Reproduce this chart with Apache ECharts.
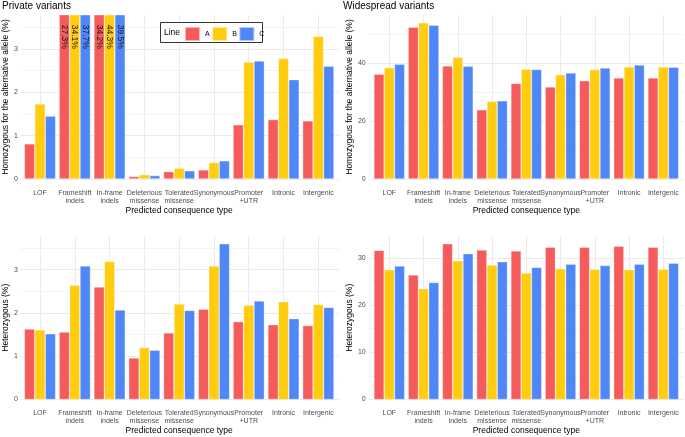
<!DOCTYPE html>
<html>
<head>
<meta charset="utf-8">
<script src="https://cdn.jsdelivr.net/npm/echarts@6/dist/echarts.min.js"></script>
<style>html,body{margin:0;padding:0;background:#fff}#c{width:685px;height:437px}</style>
</head>
<body>
<div id="c"></div>
<script>
const categories = ['LOF','Frameshift\nindels','In-frame\nindels','Deleterious\nmissense','Tolerated\nmissense','Synonymous','Promoter\n+UTR','Intronic','Intergenic'];
const lines = ['A','B','C'];

// Private variants, homozygous for the alternative allele (%)
const privHomA = [0.81, 27.3, 34.2, 0.06, 0.17, 0.21, 1.25, 1.37, 1.34];
const privHomB = [1.73, 34.1, 44.3, 0.10, 0.25, 0.38, 2.70, 2.78, 3.29];
const privHomC = [1.45, 37.7, 39.5, 0.08, 0.19, 0.42, 2.72, 2.29, 2.60];
// Widespread variants, homozygous for the alternative allele (%)
const widHomA = [36.2, 52.4, 39.0, 23.9, 33.0, 31.8, 33.9, 34.9, 34.9];
const widHomB = [38.4, 53.9, 42.0, 26.8, 37.9, 36.0, 37.8, 38.7, 38.7];
const widHomC = [39.6, 53.1, 38.9, 27.0, 37.8, 36.6, 38.3, 39.4, 38.6];
// Private variants, heterozygous (%)
const privHetA = [1.63, 1.56, 2.60, 0.96, 1.54, 2.09, 1.80, 1.73, 1.71];
const privHetB = [1.61, 2.64, 3.19, 1.20, 2.21, 3.09, 2.18, 2.26, 2.20];
const privHetC = [1.52, 3.09, 2.07, 1.14, 2.06, 3.60, 2.28, 1.87, 2.13];
// Widespread variants, heterozygous (%)
const widHetA = [31.6, 26.4, 33.0, 31.7, 31.5, 32.3, 32.3, 32.5, 32.3];
const widHetB = [27.5, 23.5, 29.4, 28.5, 26.8, 27.7, 27.6, 27.5, 27.6];
const widHetC = [28.3, 24.8, 30.9, 29.2, 28.0, 28.7, 28.4, 28.7, 28.9];

const colors = ['#F55B5B', '#FFCC0F', '#4F87F8'];
const FONT = 'Liberation Sans, Arial, sans-serif';

const panels = [
  {data:[privHomA, privHomB, privHomC], max:3.78, major:1, minor:0.5, name:'Homozygous for the alternative allele (%)', center0:40, step:34.79, top:15, bottom:179, nameGap:9, labelTop:true},
  {data:[widHomA, widHomB, widHomC], max:56.6, major:20, minor:10, name:'Homozygous for the alternative allele (%)', center0:389.3, step:34.25, top:15, bottom:179, nameGap:14},
  {data:[privHetA, privHetB, privHetC], max:3.78, major:1, minor:0.5, name:'Heterozygous (%)', center0:40, step:34.79, top:236, bottom:399.5, nameGap:9},
  {data:[widHetA, widHetB, widHetC], max:34.65, major:10, minor:5, name:'Heterozygous (%)', center0:389.3, step:34.25, top:236, bottom:399.5, nameGap:14}
];

const grid = [], xAxis = [], yAxis = [], series = [];
panels.forEach((p, i) => {
  const panelLeft = p.center0 - 0.6 * p.step;
  const panelW = 9.2 * p.step;
  const barLeft = p.center0 - 0.5 * p.step;
  const barW = 9 * p.step;
  const h = p.bottom - p.top;
  grid[i] = {left: panelLeft, top: p.top, width: panelW, height: h, containLabel: false};
  grid[4 + i] = {left: barLeft, top: p.top, width: barW, height: h, containLabel: false};
  xAxis[i] = {type:'value', gridIndex:i, min:0, max:1, show:false};
  xAxis[4 + i] = {
    type:'category', gridIndex:4 + i, data:categories,
    axisLine:{show:false}, axisTick:{show:false},
    axisLabel:{interval:0, margin:10, fontSize:7, lineHeight:8, color:'#4D4D4D', fontFamily:FONT, hideOverlap:false},
    splitLine:{show:true, alignWithLabel:true, lineStyle:{color:'#EBEBEB', width:1}},
    name:'Predicted consequence type', nameLocation:'middle', nameGap:27,
    nameTextStyle:{fontSize:8.5, color:'#000', fontFamily:FONT}
  };
  // minor grid lines
  yAxis[2 * i] = {
    type:'value', gridIndex:i, position:'left', min:0, max:p.max, interval:p.minor,
    axisLine:{show:false}, axisTick:{show:false}, axisLabel:{show:false},
    splitLine:{show:true, showMaxLine:false, lineStyle:{color:'#F4F4F4', width:1}}, z:0
  };
  // major grid lines + labels
  yAxis[2 * i + 1] = {
    type:'value', gridIndex:i, position:'left', min:0, max:p.max, interval:p.major,
    axisLine:{show:false}, axisTick:{show:false},
    axisLabel:{margin:3, fontSize:7, color:'#4D4D4D', fontFamily:FONT, showMaxLabel:false},
    splitLine:{show:true, showMaxLine:false, lineStyle:{color:'#EBEBEB', width:1}}, z:1,
    name:p.name, nameLocation:'middle', nameGap:p.nameGap,
    nameTextStyle:{fontSize:8.5, color:'#000', fontFamily:FONT}
  };
  yAxis[8 + i] = {type:'value', gridIndex:4 + i, min:0, max:p.max, show:false};
  p.data.forEach((vals, s) => {
    series.push({
      type:'bar', name:lines[s], xAxisIndex:4 + i, yAxisIndex:8 + i,
      data:vals, barGap:'0%', barCategoryGap:'10%', clip:true,
      itemStyle:{color:colors[s], borderColor:'rgba(255,255,255,0.55)', borderWidth:0.6},
      label:{
        show:!!p.labelTop, position:'insideTop', rotate:-90, align:'left', verticalAlign:'middle',
        distance:10, fontSize:8.5, color:'#1a1a1a', fontFamily:FONT,
        formatter: (q) => q.value > p.max ? q.value.toFixed(1) + '%' : ''
      },
      emphasis:{disabled:true}, animation:false
    });
  });
});

const chart = echarts.init(document.getElementById('c'), null, {renderer:'canvas'});
chart.setOption({
  animation:false,
  backgroundColor:'#fff',
  grid, xAxis, yAxis, series,
  legend:{
    data:lines, left:184, top:26, padding:0, itemWidth:15, itemHeight:14, itemGap:1.5, z:20,
    icon:'rect', textStyle:{fontSize:7, color:'#000', fontFamily:FONT}, selectedMode:false
  },
  graphic:[
    {type:'text', left:2, top:1, style:{text:'Private variants', fontSize:10, fill:'#000', fontFamily:FONT}},
    {type:'text', left:343, top:1, style:{text:'Widespread variants', fontSize:10, fill:'#000', fontFamily:FONT}},
    {type:'rect', shape:{x:160.5, y:22.5, width:102, height:20}, style:{fill:'#fff', stroke:'#333', lineWidth:1}, z:3},
    {type:'text', x:164, y:33, style:{text:'Line', fontSize:8.5, fill:'#000', fontFamily:FONT, verticalAlign:'middle'}, z:4}
  ]
});
</script>
</body>
</html>
